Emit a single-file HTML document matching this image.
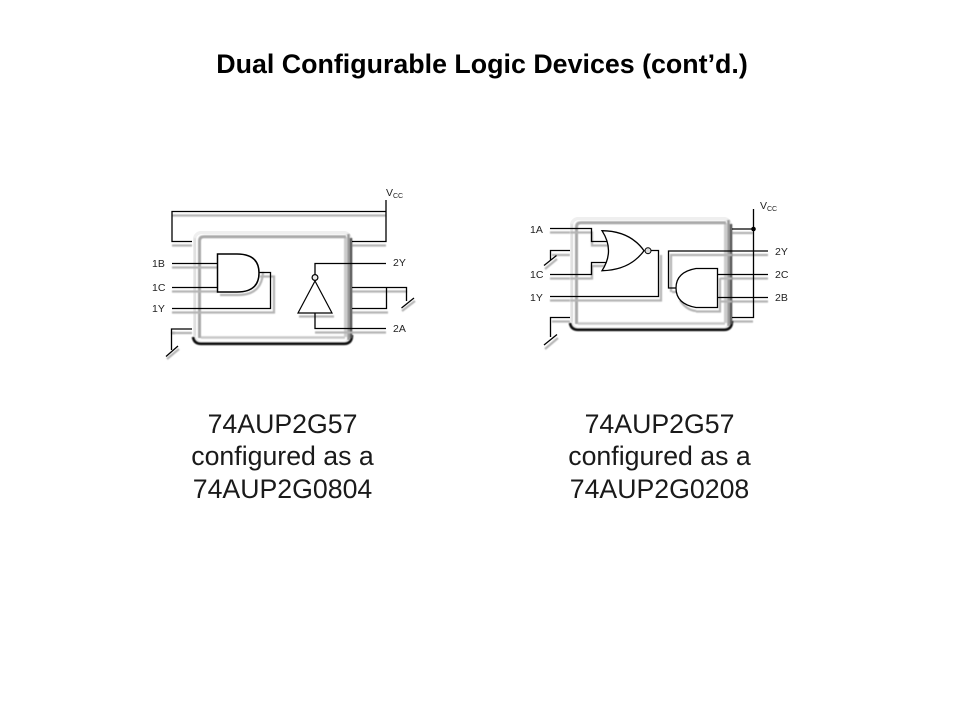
<!DOCTYPE html>
<html>
<head>
<meta charset="utf-8">
<style>
html,body{margin:0;padding:0;background:#fff;width:960px;height:720px;overflow:hidden}
svg{display:block}
text{font-family:"Liberation Sans",sans-serif;fill:#111}
.t{font-size:26.8px;font-weight:bold;text-anchor:middle;fill:#000}
.b{font-size:26.7px;text-anchor:middle;fill:#1a1a1a}
.l{font-size:10.5px;fill:#222}
.s{font-size:7px;fill:#222}
.w{fill:none;stroke:#000;stroke-width:1.3}
.sh{fill:none;stroke:#b4b4b4;stroke-width:2.2}
</style>
</head>
<body>
<svg width="960" height="720" viewBox="0 0 960 720" xmlns="http://www.w3.org/2000/svg">
<defs>
<filter id="bl" x="-10%" y="-10%" width="120%" height="120%"><feGaussianBlur stdDeviation="0.6"/></filter>
</defs>
<rect width="960" height="720" fill="#fff"/>
<text class="t" x="482" y="73">Dual Configurable Logic Devices (cont’d.)</text>

<!-- LEFT -->
<g>
<g filter="url(#bl)">
<path class="sh" d="M172 215.500H386M172 245.500H192M352 245.500H386M352 291.500H407M352 312.500H388"/>
<path class="sh" d="M172 333H175M167 359L179 349M402 311L415 301"/>
</g>
<rect x="193" y="231" width="159" height="113" rx="8" fill="#efefef"/>
<rect x="196" y="234" width="153" height="107" rx="6" fill="#fff"/>
<g filter="url(#bl)" fill="none">
<path d="M193 337Q194 343.800 201 343.800H344Q352 343.800 352 335" stroke="#111" stroke-width="2.600"/>
<path d="M351 238V338" stroke="#555" stroke-width="2.500"/>
<path d="M348.500 234V340" stroke="#999" stroke-width="2.500"/>
<path d="M345.500 237V337" stroke="#ccc" stroke-width="3"/>
<path d="M199.500 338V241Q199.500 236.800 204 236.800H346" stroke="#a8a8a8" stroke-width="3"/>
<path d="M195 336V238" stroke="#ddd" stroke-width="2"/>
<path d="M201 337.500H345" stroke="#c8c8c8" stroke-width="2.500"/>
</g>
<g filter="url(#bl)">
<path class="sh" d="M172 267.500H218M172 291.500H218M172 312.500H274V276.500H260M171 333H192M315 332.500H386"/>
<path class="sh" d="M220 295H238Q262 295 263 272" stroke="#888"/>
<path class="sh" d="M299 316.500H334"/>
</g>

<path class="w" d="M386 200V241.500H352M386 211.500H172V241.500H192"/>
<path class="w" d="M172 263.500H218M172 287.500H218M259 272.500H270.500V308.500H172"/>
<path class="w" d="M192 329H171.500V350M166 356.500L178 346"/>
<path d="M217.500 254H237Q259 254 259 273Q259 292 237 292H217.500Z" fill="#fff" stroke="#000" stroke-width="1.500"/>
<path class="w" d="M315 275V263.500H386"/>
<circle cx="315" cy="277.500" r="2.900" fill="#eee" stroke="#000" stroke-width="1.200"/>
<path d="M315 281L332 313H298Z" fill="#fff" stroke="#000" stroke-width="1.200"/>
<path class="w" d="M315 313V328.500H386"/>
<path class="w" d="M352 287.500H406.500V301M386.500 287.500V308.500H352M401.500 308L414 298"/>

<text class="l" x="152" y="267">1B</text>
<text class="l" x="152" y="291">1C</text>
<text class="l" x="152" y="312">1Y</text>
<text class="l" x="393" y="266">2Y</text>
<text class="l" x="393" y="332">2A</text>
<text class="l" x="386" y="196">V</text><text class="s" x="393" y="198">CC</text>
</g>

<!-- RIGHT -->
<g>
<g filter="url(#bl)">
<path class="sh" d="M550 232.500H570M550 278.500H570M550 300.500H570M570 255H552M570 321.500H552M732 233H753M732 321.500H753M732 278.500H768M732 301.500H768M732 255H768"/>
<path class="sh" d="M545 269L557 259M545 349L558 338"/>
</g>
<rect x="570" y="217" width="162" height="113" rx="8" fill="#efefef"/>
<rect x="573" y="220" width="156" height="107" rx="6" fill="#fff"/>
<g filter="url(#bl)" fill="none">
<path d="M570 323Q571 329.800 578 329.800H724Q732 329.800 732 321" stroke="#111" stroke-width="2.600"/>
<path d="M731 224V324" stroke="#555" stroke-width="2.500"/>
<path d="M728.500 220V326" stroke="#999" stroke-width="2.500"/>
<path d="M725.500 223V323" stroke="#ccc" stroke-width="3"/>
<path d="M576.500 324V227Q576.500 222.800 581 222.800H726" stroke="#a8a8a8" stroke-width="3"/>
<path d="M572 322V224" stroke="#ddd" stroke-width="2"/>
<path d="M578 323.500H725" stroke="#c8c8c8" stroke-width="2.500"/>
</g>
<g filter="url(#bl)">
<path class="sh" d="M570 232.500H592V245.500H608M570 278.500H592V266H606M570 300.500H661V255M671 292V255H732M679 292H672M696 311Q686 310 680 300M696 311.500H720V278M720 278.500H732M720 301.500H732"/>
</g>

<path class="w" d="M550 228.500H591.500V241.500H608M550 274.500H591.500V262.500H608"/>
<path d="M602 230.700Q630 231 644 250.700Q630 270 602 270.700Q615 250.700 602 230.700Z" fill="#fff" stroke="#000" stroke-width="1.300"/>
<circle cx="648" cy="250.700" r="3" fill="#ddd" stroke="#000" stroke-width="1"/>
<path class="w" d="M651 250.500H658.500V296.500H550"/>
<path class="w" d="M570 250.500H550.500V260M544 265.500L556.500 255.500M570 317.500H550.500V337M544 345L557 334.500"/>
<path class="w" d="M753.500 209V317.500H732M732 229H753.500"/>
<circle cx="753.500" cy="229" r="2.300" fill="#000"/>
<path class="w" d="M768 251H668.500V288H676"/>
<path d="M717.500 268.500H696Q676 272 676 288Q676 304 696 307.500H717.500Z" fill="#fff" stroke="#000" stroke-width="1.300"/>
<path class="w" d="M717.500 274.500H768M717.500 297.500H768"/>

<text class="l" x="530" y="233">1A</text>
<text class="l" x="530" y="278">1C</text>
<text class="l" x="530" y="301">1Y</text>
<text class="l" x="775" y="255">2Y</text>
<text class="l" x="775" y="278">2C</text>
<text class="l" x="775" y="301">2B</text>
<text class="l" x="760" y="209">V</text><text class="s" x="767" y="211">CC</text>
</g>

<text class="b" x="282.500" y="433">74AUP2G57</text>
<text class="b" x="282.500" y="465">configured as a</text>
<text class="b" x="282.500" y="498">74AUP2G0804</text>
<text class="b" x="659.500" y="433">74AUP2G57</text>
<text class="b" x="659.500" y="465">configured as a</text>
<text class="b" x="659.500" y="498">74AUP2G0208</text>
</svg>
</body>
</html>
